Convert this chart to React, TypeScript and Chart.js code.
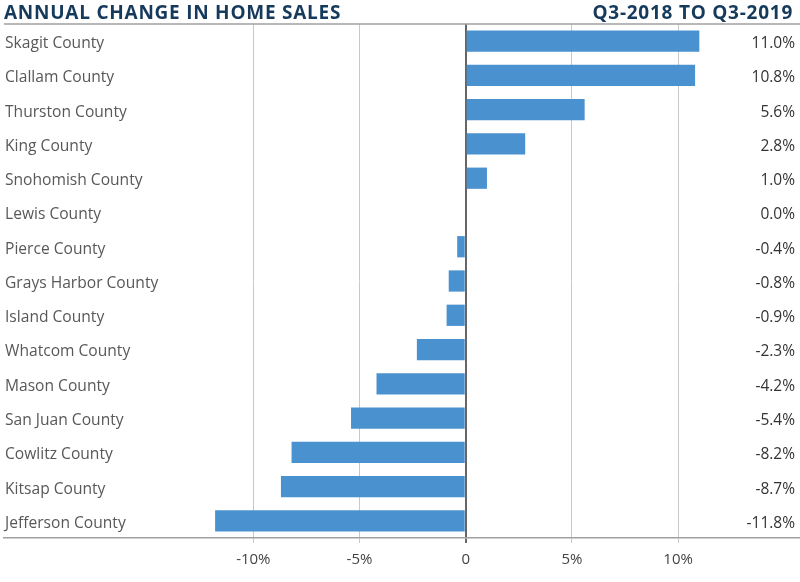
import React, { useEffect, useRef } from "react";
import { Chart, registerables } from "chart.js";

Chart.register(...registerables);

const TITLE = "ANNUAL CHANGE IN HOME SALES";
const SUBTITLE = "Q3-2018 TO Q3-2019";

const counties = [
  "Skagit County",
  "Clallam County",
  "Thurston County",
  "King County",
  "Snohomish County",
  "Lewis County",
  "Pierce County",
  "Grays Harbor County",
  "Island County",
  "Whatcom County",
  "Mason County",
  "San Juan County",
  "Cowlitz County",
  "Kitsap County",
  "Jefferson County",
];

const changes = [11.0, 10.8, 5.6, 2.8, 1.0, 0.0, -0.4, -0.8, -0.9, -2.3, -4.2, -5.4, -8.2, -8.7, -11.8];

const tickValues = [-10, -5, 0, 5, 10];

const FONT = "'Open Sans', 'DejaVu Sans', sans-serif";

export default function App() {
  const ref = useRef<HTMLCanvasElement | null>(null);

  useEffect(() => {
    document.body.style.margin = "0";
    const canvas = ref.current;
    if (!canvas) return;

    const overlay = {
      id: "overlay",
      afterDraw(chart: any) {
        const ctx = chart.ctx;
        const area = chart.chartArea;
        const y = chart.scales.y;
        ctx.save();
        // titles
        ctx.fillStyle = "#163a5c";
        ctx.font = `bold 19px ${FONT}`;
        ctx.textBaseline = "alphabetic";
        ctx.textAlign = "left";
        (ctx as any).letterSpacing = "0.75px";
        ctx.fillText(TITLE, 4, 19);
        ctx.textAlign = "right";
        ctx.fillText(SUBTITLE, 793, 19);
        (ctx as any).letterSpacing = "0px";
        // top line
        ctx.strokeStyle = "#a0a0a0";
        ctx.lineWidth = 1.5;
        ctx.beginPath();
        ctx.moveTo(4, area.top);
        ctx.lineTo(800, area.top);
        ctx.stroke();
        // labels
        ctx.textBaseline = "middle";
        counties.forEach((name, i) => {
          const py = y.getPixelForValue(i);
          ctx.font = `15.6px ${FONT}`;
          ctx.fillStyle = "#585858";
          ctx.textAlign = "left";
          ctx.fillText(name, 5, py + 2.5);
          ctx.font = `15.5px ${FONT}`;
          ctx.fillStyle = "#333333";
          ctx.textAlign = "right";
          ctx.fillText(changes[i].toFixed(1) + "%", 795, py + 2.5);
        });
        ctx.restore();
      },
    };

    const chart = new Chart(canvas, {
      type: "bar",
      data: {
        labels: counties,
        datasets: [
          {
            data: changes,
            backgroundColor: "#4a91cf",
            borderWidth: 0,
            barPercentage: 0.62,
            categoryPercentage: 1,
          },
        ],
      },
      options: {
        indexAxis: "y",
        animation: false,
        responsive: false,
        maintainAspectRatio: false,
        layout: { padding: { top: 24, left: 4, right: 0, bottom: 0 } },
        plugins: {
          legend: { display: false },
          tooltip: { enabled: false },
          title: { display: false },
        },
        scales: {
          x: {
            type: "linear",
            min: -21.74,
            max: 15.74,
            afterBuildTicks: (axis: any) => {
              axis.ticks = tickValues.map((v) => ({ value: v }));
            },
            afterFit: (axis: any) => {
              axis.height = 44;
            },
            grid: {
              color: (c: any) => (c.tick && c.tick.value === 0 ? "#666666" : "#c8c8c8"),
              lineWidth: (c: any) => (c.tick && c.tick.value === 0 ? 2 : 1),
              drawTicks: true,
              tickLength: 5,
            },
            border: { display: true, color: "#a0a0a0", width: 1.5 },
            ticks: {
              padding: 8,
              color: "#444444",
              font: { family: FONT, size: 15 },
              callback: (v: any) => (v === 0 ? "0" : v + "%"),
            },
          },
          y: {
            type: "category",
            display: false,
            offset: true,
            grid: { display: false },
          },
        },
      },
      plugins: [overlay],
    });

    return () => chart.destroy();
  }, []);

  return (
    <div style={{ position: "fixed", left: 0, top: 0, width: 800, height: 582, background: "#fff" }}>
      <canvas ref={ref} width={800} height={582} style={{ width: 800, height: 582 }} />
    </div>
  );
}
